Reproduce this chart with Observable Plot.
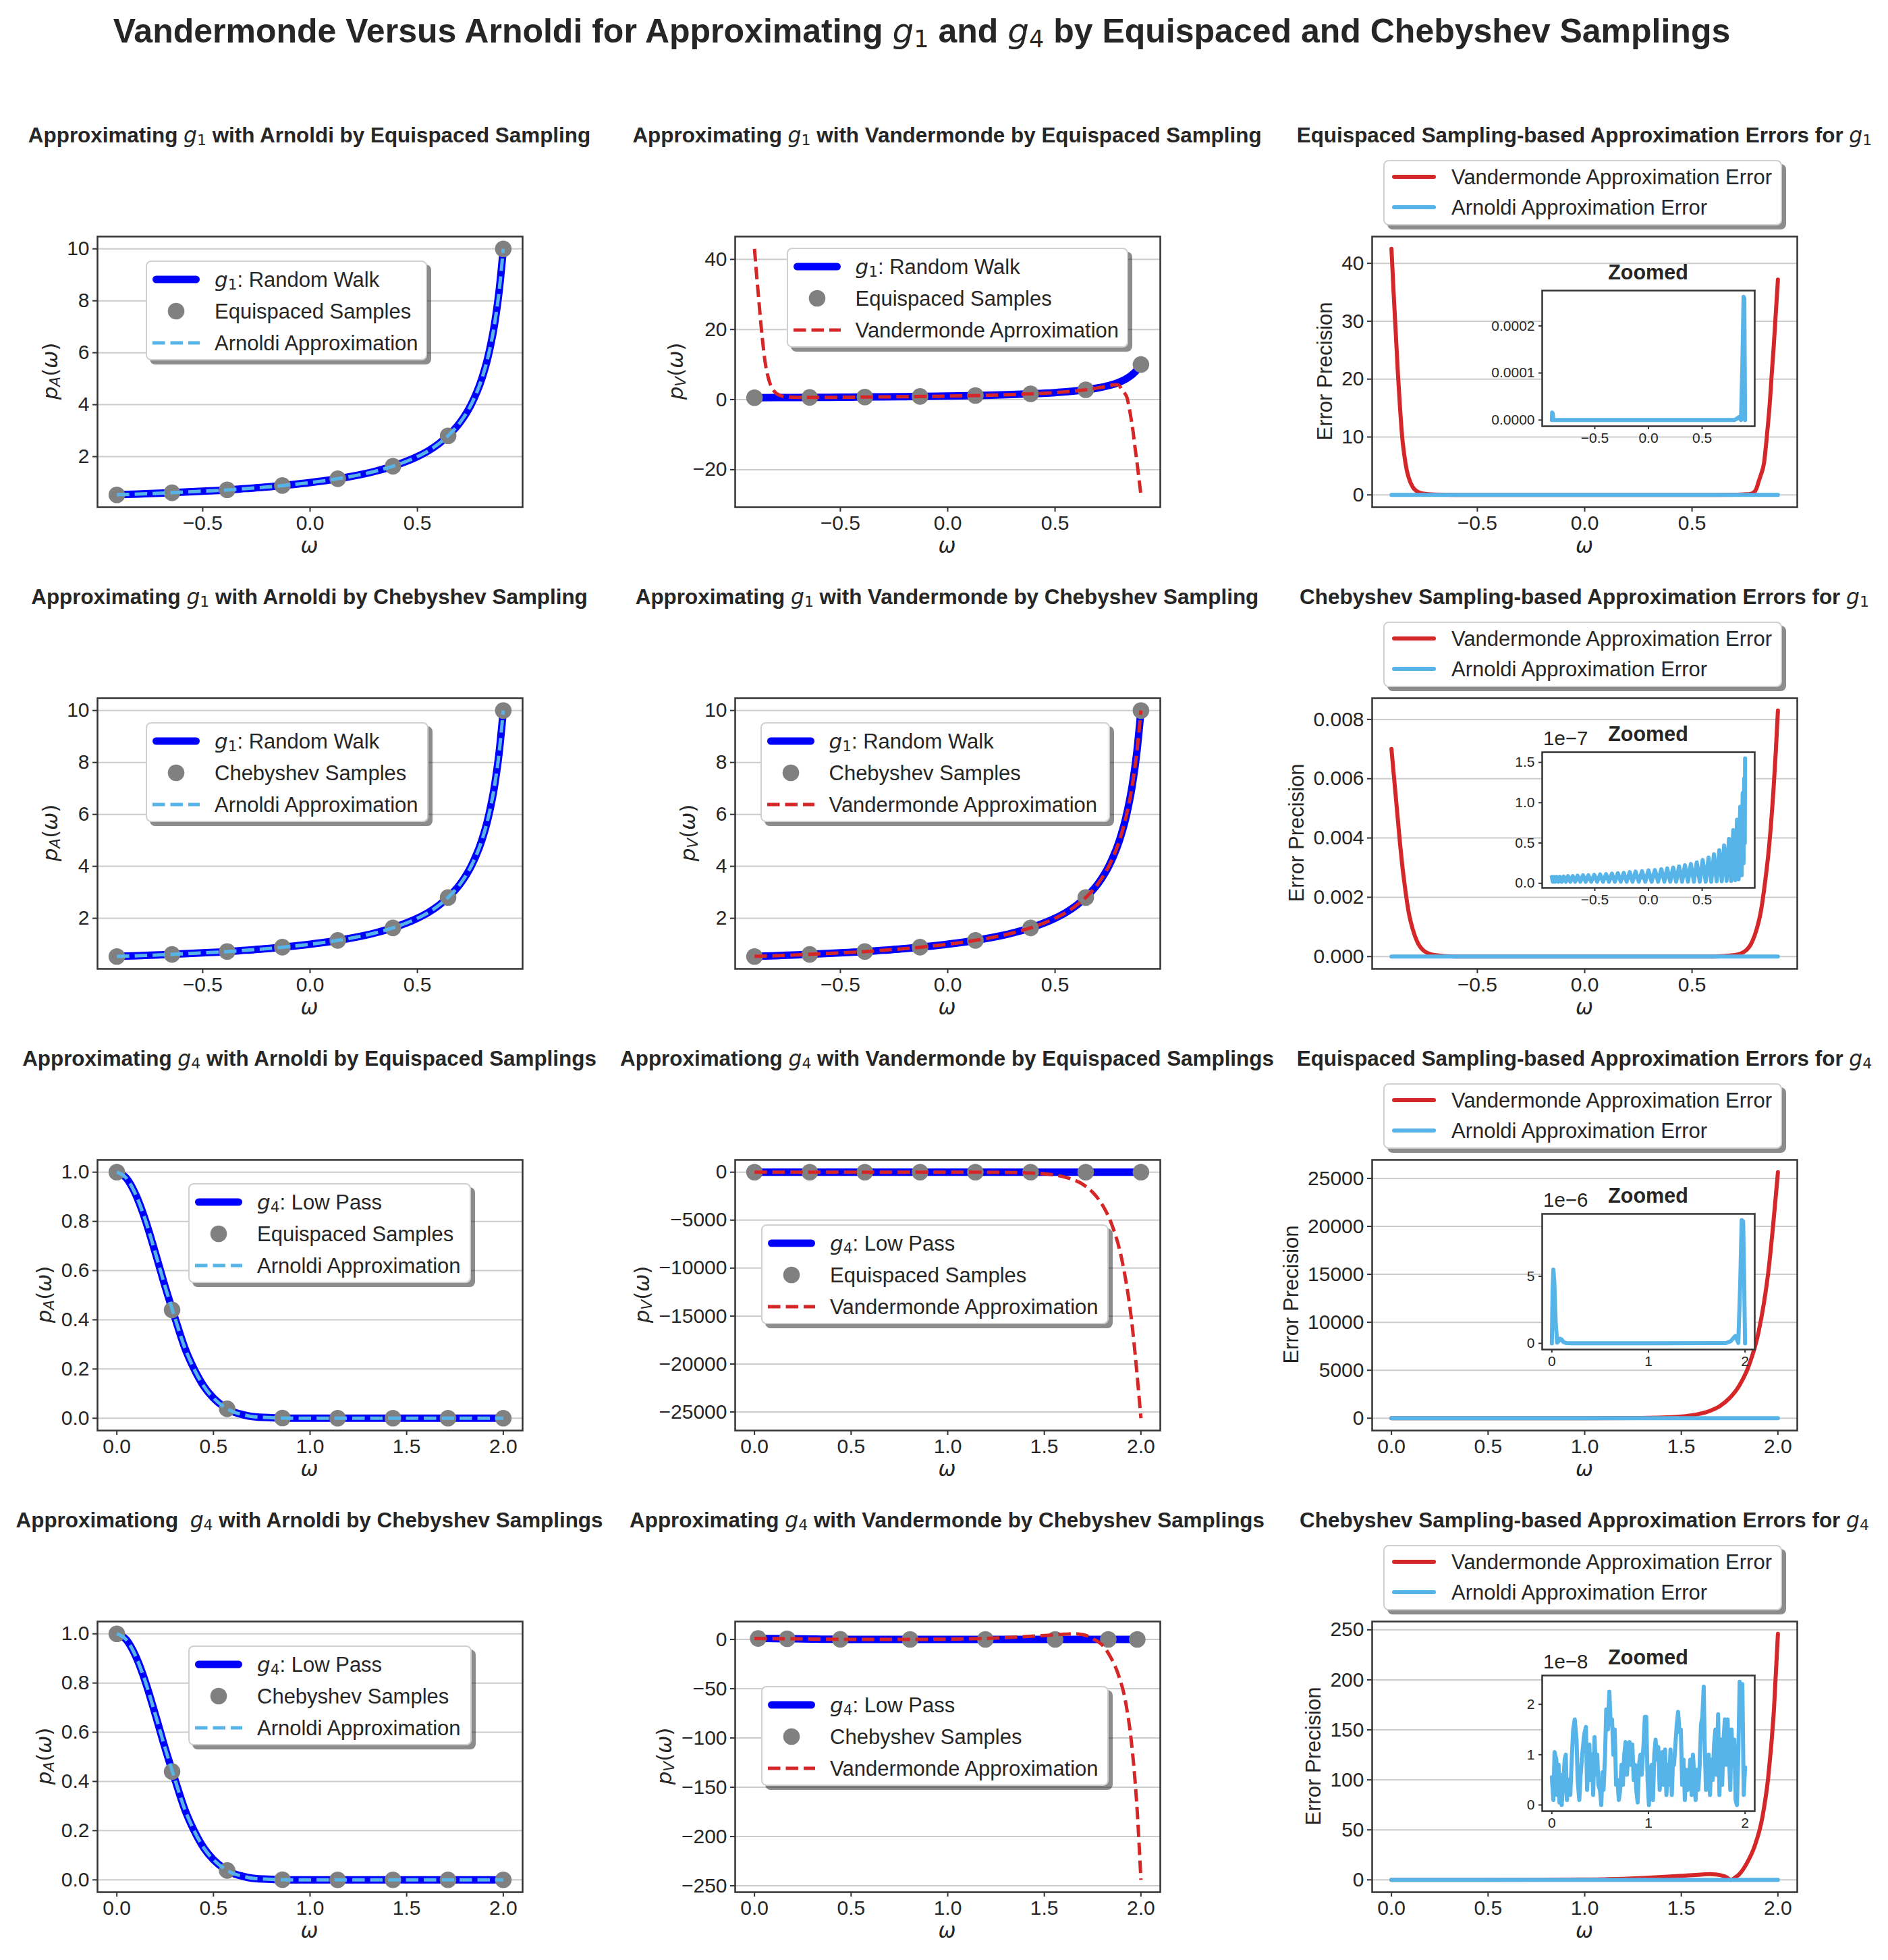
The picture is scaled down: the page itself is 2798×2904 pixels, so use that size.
<!DOCTYPE html>
<html>
<head>
<meta charset="utf-8">
<script src="https://cdn.jsdelivr.net/npm/d3@7"></script>
<script src="https://cdn.jsdelivr.net/npm/@observablehq/plot@0.6"></script>
<style>
html,body{margin:0;padding:0;background:#fff;}
#fig{position:relative;width:2798px;height:2904px;overflow:hidden;background:#fff;font-family:"Liberation Sans",Arial,sans-serif;color:#262626;}
#fig svg{position:absolute;overflow:visible;}
.c{position:absolute;transform:translate(-50%,-50%);white-space:pre;line-height:1;}
.b{font-weight:bold;}
.mi{font-family:"DejaVu Sans";font-style:italic;font-weight:normal;}
.mr{font-family:"DejaVu Sans";font-style:normal;font-weight:normal;}
.ms{font-family:"DejaVu Sans";font-weight:normal;font-size:0.7em;position:relative;top:0.2em;}
.legend{position:absolute;background:#fff;border:2px solid #d0d0d0;border-radius:8px;box-shadow:6px 6px 0 0 rgba(0,0,0,0.45);box-sizing:border-box;font-size:31px;}
.legend .txt{position:absolute;transform:translateY(-50%);white-space:pre;line-height:1;}
</style>
</head>
<body>
<div id="fig"></div>
<script>
// ---------------- DATA ----------------
// g1 : random walk filter, smooth curve
const g1X = [-0.9,-0.8,-0.7,-0.6,-0.5,-0.4,-0.3,-0.2,-0.1,0,0.1,0.2,0.3,0.4,0.5,0.55,0.6,0.65,0.7,0.75,0.8,0.83,0.86,0.88,0.9];
const g1Y = [0.53,0.56,0.59,0.63,0.67,0.71,0.77,0.83,0.91,1.0,1.11,1.25,1.43,1.67,2.0,2.22,2.5,2.86,3.33,4.0,5.0,5.88,7.14,8.33,10.0];
// Arnoldi approximation (and Vandermonde on Chebyshev samples) coincide with g1 at picture resolution
const arnoldiG1Y = g1Y;
const vandChebG1Y = g1Y;
// g1 samples (same abscissae shown in both sampling rows)
const sampG1X = [-0.9,-0.643,-0.386,-0.129,0.129,0.386,0.643,0.9];
const sampG1Y = [0.526,0.609,0.722,0.886,1.148,1.628,2.8,10.0];
// Vandermonde approximation of g1 with equispaced samples
const vandEqG1X = [-0.9,-0.89,-0.88,-0.87,-0.86,-0.85,-0.84,-0.83,-0.82,-0.8,-0.78,-0.75,-0.7,-0.6,-0.4,-0.2,0,0.2,0.4,0.5,0.6,0.65,0.7,0.74,0.77,0.79,0.8,0.81,0.82,0.836,0.845,0.854,0.863,0.872,0.881,0.89,0.9];
const vandEqG1Y = [43.0,35.5,28.5,21.5,15.5,10.5,7.3,5.0,3.5,1.85,1.16,0.77,0.64,0.63,0.71,0.83,1.0,1.25,1.67,2.0,2.5,2.86,3.35,3.75,4.2,4.25,3.9,2.96,2.16,0.4,-2.3,-5.4,-9.0,-13.5,-17.6,-22.2,-27.2];
// errors, g1, equispaced
const vandErrEqG1X = [-0.9,-0.89,-0.88,-0.87,-0.86,-0.85,-0.84,-0.83,-0.82,-0.8,-0.78,-0.75,-0.7,-0.6,0,0.6,0.7,0.74,0.77,0.79,0.8,0.81,0.82,0.836,0.845,0.854,0.863,0.872,0.881,0.89,0.9];
const vandErrEqG1Y = [42.5,35,28,21,15,10,6.8,4.5,3.0,1.3,0.6,0.2,0.05,0,0,0,0.02,0.1,0.15,0.5,1.1,2.3,3.4,5.7,8.8,12.3,16.3,21.3,26,31.3,37.2];
const arnErrEqG1X = [-0.9,-0.897,-0.893,-0.887,-0.88,-0.85,0.0,0.8,0.825,0.84,0.85,0.862,0.875,0.886,0.893,0.9];
const arnErrEqG1Y = [0,1.6e-5,1.5e-5,0.3e-5,0,0,0,0,0.3e-5,0.6e-5,0.4e-5,0,1.2e-4,2.62e-4,2.58e-4,0];
// errors, g1, Chebyshev
const vandErrChebG1X = [-0.9,-0.89,-0.88,-0.87,-0.86,-0.85,-0.84,-0.82,-0.8,-0.78,-0.75,-0.7,-0.6,0,0.6,0.7,0.75,0.78,0.8,0.82,0.84,0.86,0.88,0.89,0.9];
const vandErrChebG1Y = [0.0070,0.0062,0.0054,0.0046,0.0038,0.0031,0.0025,0.0015,0.0009,0.0005,0.0002,0.00005,0,0,0,0.00005,0.0002,0.0005,0.0009,0.0015,0.0025,0.0038,0.0057,0.0069,0.0083];
const arnErrChebG1X = [-0.90,-0.89,-0.88,-0.868,-0.855,-0.84,-0.825,-0.808,-0.79,-0.77,-0.75,-0.728,-0.705,-0.683,-0.66,-0.635,-0.61,-0.585,-0.56,-0.533,-0.505,-0.478,-0.45,-0.423,-0.395,-0.368,-0.34,-0.313,-0.285,-0.258,-0.23,-0.203,-0.175,-0.148,-0.12,-0.09,-0.06,-0.03,0.0,0.03,0.06,0.09,0.12,0.148,0.175,0.203,0.23,0.258,0.285,0.313,0.34,0.368,0.395,0.423,0.45,0.478,0.505,0.533,0.56,0.585,0.61,0.635,0.66,0.683,0.705,0.728,0.75,0.77,0.79,0.808,0.825,0.84,0.855,0.868,0.878,0.886,0.892,0.897,0.9];
const arnErrChebG1Y = [0.08e-7,0.02e-7,0.08e-7,0.02e-7,0.08e-7,0.02e-7,0.08e-7,0.02e-7,0.085e-7,0.02e-7,0.09e-7,0.02e-7,0.09e-7,0.02e-7,0.095e-7,0.02e-7,0.10e-7,0.02e-7,0.10e-7,0.02e-7,0.105e-7,0.02e-7,0.11e-7,0.02e-7,0.115e-7,0.02e-7,0.12e-7,0.02e-7,0.125e-7,0.02e-7,0.13e-7,0.02e-7,0.14e-7,0.02e-7,0.145e-7,0.02e-7,0.15e-7,0.02e-7,0.16e-7,0.02e-7,0.165e-7,0.02e-7,0.175e-7,0.02e-7,0.185e-7,0.02e-7,0.195e-7,0.02e-7,0.21e-7,0.02e-7,0.225e-7,0.02e-7,0.24e-7,0.02e-7,0.26e-7,0.02e-7,0.29e-7,0.02e-7,0.32e-7,0.02e-7,0.36e-7,0.025e-7,0.41e-7,0.025e-7,0.47e-7,0.03e-7,0.55e-7,0.03e-7,0.66e-7,0.04e-7,0.79e-7,0.05e-7,0.95e-7,0.10e-7,1.12e-7,0.25e-7,1.3e-7,0.5e-7,1.55e-7];

// g4 : low pass filter
const g4X = [0,0.05,0.1,0.15,0.2,0.25,0.3,0.35,0.4,0.45,0.5,0.55,0.6,0.65,0.7,0.8,0.9,1.0,1.2,1.4,1.6,1.8,2.0];
const g4Y = [1.0,0.975,0.905,0.80,0.67,0.535,0.41,0.29,0.20,0.13,0.082,0.049,0.027,0.015,0.007,0.002,0.0003,0,0,0,0,0,0];
const arnoldiG4Y = g4Y;
const eqG4X = [0,0.286,0.571,0.857,1.143,1.429,1.714,2.0];
const eqG4Y = [1.0,0.44,0.038,0.0006,0,0,0,0];
const chebG4X = [0.019,0.169,0.444,0.805,1.195,1.556,1.831,1.981];
const chebG4Y = [1.0,0.75,0.14,0.0015,0,0,0,0];
// Vandermonde approximations of g4
const vandEqG4X = [0,0.2,0.4,0.6,0.8,1.0,1.3,1.4,1.45,1.5,1.55,1.6,1.65,1.7,1.75,1.8,1.85,1.9,1.95,2.0];
const vandEqG4Y = [1.0,0.67,0.2,0.03,0,0,-25,-65,-110,-180,-290,-480,-780,-1270,-2100,-3400,-5500,-9000,-15200,-25650];
const vandChebG4X = [0,0.1,0.2,0.3,0.4,0.5,0.6,0.8,1.0,1.1,1.2,1.3,1.4,1.5,1.6,1.65,1.7,1.73,1.757,1.78,1.8,1.84,1.88,1.92,1.95,1.98,2.0];
const vandChebG4Y = [1.0,0.9,0.67,0.41,0.2,0.08,0.03,0,0.3,0.6,1.1,1.9,2.9,4.0,5.3,5.7,4.8,3.0,0,-2.5,-5.7,-17,-34,-63,-103,-172,-244];
// errors, g4, equispaced
const vandErrEqG4X = [0,1.0,1.3,1.4,1.45,1.5,1.55,1.6,1.65,1.7,1.75,1.8,1.85,1.9,1.95,2.0];
const vandErrEqG4Y = [0,0,25,65,110,180,290,480,780,1270,2100,3400,5500,9000,15200,25650];
const arnErrEqG4X = [0,0.008,0.016,0.026,0.04,0.055,0.07,0.085,0.1,0.12,0.15,0.2,1.0,1.8,1.85,1.88,1.9,1.915,1.93,1.95,1.965,1.98,1.99,2.0];
const arnErrEqG4Y = [0,4.0e-6,5.5e-6,4.5e-6,1.5e-6,0.05e-6,0.15e-6,0.35e-6,0.3e-6,0.1e-6,0.02e-6,0,0,0.02e-6,0.15e-6,0.4e-6,0.55e-6,0.3e-6,0.03e-6,4.5e-6,9.2e-6,9.1e-6,5.0e-6,0];
// errors, g4, Chebyshev
const vandErrChebG4X = [0,1.0,1.1,1.2,1.3,1.4,1.5,1.6,1.65,1.7,1.73,1.757,1.78,1.8,1.84,1.88,1.92,1.95,1.98,2.0];
const vandErrChebG4Y = [0,0.3,0.6,1.1,1.9,2.9,4.0,5.3,5.7,4.8,3.0,0,2.5,5.7,17,34,63,103,172,246];
const arnErrChebG4X = [0,0.016,0.028,0.047,0.056,0.07,0.079,0.093,0.102,0.121,0.133,0.144,0.156,0.172,0.191,0.207,0.221,0.237,0.256,0.267,0.284,0.298,0.314,0.335,0.353,0.365,0.377,0.388,0.4,0.414,0.428,0.442,0.456,0.47,0.481,0.498,0.512,0.523,0.535,0.551,0.563,0.581,0.595,0.609,0.623,0.637,0.651,0.665,0.679,0.693,0.707,0.721,0.735,0.749,0.763,0.777,0.791,0.805,0.819,0.833,0.847,0.86,0.874,0.888,0.902,0.916,0.93,0.949,0.963,0.977,0.991,1.005,1.019,1.033,1.047,1.06,1.074,1.088,1.102,1.116,1.13,1.144,1.158,1.172,1.186,1.2,1.214,1.228,1.242,1.256,1.265,1.279,1.293,1.307,1.321,1.335,1.349,1.363,1.377,1.391,1.405,1.419,1.433,1.447,1.46,1.474,1.488,1.502,1.516,1.53,1.544,1.558,1.572,1.581,1.595,1.609,1.623,1.637,1.651,1.665,1.679,1.693,1.707,1.721,1.735,1.749,1.763,1.777,1.791,1.805,1.819,1.833,1.847,1.86,1.874,1.888,1.902,1.916,1.93,1.944,1.958,1.972,1.986,2.0];
const arnErrChebG4Y = [0.55e-8,0.1e-8,1.05e-8,0.9e-8,0.2e-8,0.8e-8,0.05e-8,0.6e-8,0.0,0.5e-8,0.9e-8,1.0e-8,0.1e-8,0.5e-8,0.2e-8,0.95e-8,1.5e-8,1.7e-8,1.3e-8,0.5e-8,0.1e-8,0.6e-8,1.0e-8,1.4e-8,1.55e-8,0.3e-8,0.9e-8,1.2e-8,0.5e-8,1.0e-8,0.2e-8,1.35e-8,0.6e-8,1.0e-8,0.4e-8,0.3e-8,0.0,0.65e-8,0.3e-8,1.0e-8,1.9e-8,1.5e-8,2.25e-8,1.6e-8,1.7e-8,1.0e-8,1.5e-8,0.4e-8,0.5e-8,0.1e-8,0.3e-8,0.8e-8,0.4e-8,1.0e-8,1.25e-8,0.6e-8,1.0e-8,1.25e-8,0.8e-8,1.2e-8,0.5e-8,0.8e-8,0.3e-8,0.05e-8,0.8e-8,1.0e-8,0.6e-8,1.2e-8,1.75e-8,1.75e-8,0.5e-8,0.0,0.7e-8,0.8e-8,0.1e-8,1.0e-8,1.3e-8,0.9e-8,1.15e-8,0.3e-8,0.7e-8,1.05e-8,0.4e-8,1.1e-8,0.2e-8,0.8e-8,0.4e-8,1.1e-8,0.2e-8,1.0e-8,0.8e-8,1.2e-8,1.6e-8,1.85e-8,1.45e-8,1.5e-8,0.4e-8,0.9e-8,0.1e-8,0.7e-8,0.3e-8,0.5e-8,0.9e-8,0.2e-8,1.0e-8,0.6e-8,0.1e-8,0.7e-8,0.3e-8,0.8e-8,1.6e-8,1.75e-8,2.35e-8,1.3e-8,0.3e-8,0.6e-8,1.0e-8,0.2e-8,0.9e-8,0.5e-8,1.2e-8,1.5e-8,0.6e-8,1.8e-8,0.2e-8,1.3e-8,0.4e-8,1.3e-8,1.7e-8,0.8e-8,1.7e-8,1.0e-8,0.3e-8,1.5e-8,0.8e-8,1.3e-8,0.1e-8,0.0,1.0e-8,2.45e-8,1.6e-8,2.4e-8,0.2e-8,0.75e-8];

// tick values
const xTicksG1 = [-0.5,0,0.5];
const xTicksG4 = [0,0.5,1,1.5,2];
const xTicksInsetG4 = [0,1,2];

// ---------------- LAYOUT / STYLE ----------------
const COL_LEFT = [143.5,1088.5,2033], ROW_TOP = [349.5,1033.5,1717.5,2401.5], PW = 630, PH = 401;
const BLUE = "#0000ff", SKY = "#56b4e9", RED = "#d62728", GRAY = "#808080", INK = "#262626", FRAME = "#333333", GRID = "#cccccc";
const DASH = "18.5,8";
const FONT = '"Liberation Sans", Arial, sans-serif';
const TICK = 30;
const fig = document.getElementById("fig");

const G = n => `<span class="mi">g</span><span class="ms">${n}</span>`;
const P = s => `<span class="mi">p</span><span class="ms mi">${s}</span><span class="mr">(</span><span class="mi">ω</span><span class="mr">)</span>`;
const OMEGA = `<span class="mi">ω</span>`;

function pts(xs, ys){ const n = Math.min(xs.length, ys.length), o = []; for (let i = 0; i < n; i++) o.push({x: xs[i], y: ys[i]}); return o; }
function padded(v){ const [a,b] = d3.extent(v); const r = b - a; return [a - 0.05*r, b + 0.05*r]; }
function add(html, cls, x, y, size, extra){ const d = document.createElement("div"); d.className = cls; d.style.left = x+"px"; d.style.top = y+"px"; d.style.fontSize = size+"px"; if (extra) d.style.cssText += extra; d.innerHTML = html; fig.appendChild(d); return d; }

function markFor(s){
  if (s.kind === "dot") return Plot.dot(s.data, {x:"x", y:"y", r:12.3, fill:GRAY, stroke:"none"});
  return Plot.line(s.data, {x:"x", y:"y", stroke:s.color, strokeWidth:s.width, curve:s.curve || "monotone-x",
    strokeDasharray:s.dash, strokeLinecap:s.dash ? "butt" : "round", strokeLinejoin:"round"});
}

function legendBox(x, y, w, h, rows, o){
  const box = document.createElement("div"); box.className = "legend";
  Object.assign(box.style, {left:x+"px", top:y+"px", width:w+"px", height:h+"px"});
  rows.forEach((r, i) => {
    const cy = o.centers[i];
    const ns = "http://www.w3.org/2000/svg";
    const sv = document.createElementNS(ns, "svg");
    sv.setAttribute("width", o.hLen); sv.setAttribute("height", 30);
    sv.style.left = o.hX + "px"; sv.style.top = (cy - 15) + "px"; sv.style.position = "absolute";
    if (r.kind === "dot") {
      const c = document.createElementNS(ns, "circle");
      c.setAttribute("cx", o.hLen/2); c.setAttribute("cy", 15); c.setAttribute("r", 12.3); c.setAttribute("fill", GRAY);
      sv.appendChild(c);
    } else {
      const l = document.createElementNS(ns, "line");
      l.setAttribute("x1", r.dash ? 0 : r.width/2); l.setAttribute("x2", r.dash ? o.hLen : o.hLen - r.width/2);
      l.setAttribute("y1", 15); l.setAttribute("y2", 15);
      l.setAttribute("stroke", r.color); l.setAttribute("stroke-width", r.width);
      l.setAttribute("stroke-linecap", r.dash ? "butt" : "round");
      if (r.dash) l.setAttribute("stroke-dasharray", r.dash);
      sv.appendChild(l);
    }
    box.appendChild(sv);
    const t = document.createElement("div"); t.className = "txt";
    t.style.left = o.tX + "px"; t.style.top = cy + "px"; t.innerHTML = r.html;
    box.appendChild(t);
  });
  fig.appendChild(box);
}

function axisStyle(size){ return {fontFamily:FONT, fontSize:size+"px", color:INK, background:"transparent", overflow:"visible"}; }

function mainPanel(p){
  const L = COL_LEFT[p.col], T = ROW_TOP[p.row];
  const ml = 150, mr = 20, mt = 20, mb = 70;
  const allX = p.series.flatMap(s => s.data.map(d => d.x));
  const allY = p.series.flatMap(s => s.data.map(d => d.y));
  const svg = Plot.plot({
    width: PW+ml+mr, height: PH+mt+mb, marginLeft: ml, marginRight: mr, marginTop: mt, marginBottom: mb,
    x: {domain: padded(allX), label: null}, y: {domain: padded(allY), label: null},
    style: axisStyle(TICK),
    marks: [
      Plot.gridY(p.yTicks, {stroke:GRID, strokeOpacity:1, strokeWidth:2}),
      ...p.series.map(markFor),
      Plot.frame({stroke:FRAME, strokeWidth:2.5}),
      Plot.axisX(p.xTicks, {tickFormat:p.xFmt, tickSize:7, tickPadding:5, fontSize:TICK, stroke:FRAME, strokeWidth:2, label:null}),
      Plot.axisY(p.yTicks, {tickFormat:p.yFmt, tickSize:7, tickPadding:5, fontSize:TICK, stroke:FRAME, strokeWidth:2, label:null})
    ]
  });
  svg.style.left = (L-ml)+"px"; svg.style.top = (T-mt)+"px";
  fig.appendChild(svg);
  // y label placed left of the rendered tick labels
  let tl = L - 50;
  const g = svg.querySelector('[aria-label="y-axis tick label"]');
  if (g) { const r = g.getBoundingClientRect(), f = fig.getBoundingClientRect(); tl = r.left - f.left; }
  add(p.ylab, "c", tl - 25, T + PH/2, 31, "transform:translate(-50%,-50%) rotate(-90deg);");
  add(OMEGA, "c", L + PW/2, T + PH + 57, 31);
  add(p.title, "c b", L + PW/2, T - 148.5, 31.4);
  const lg = p.legend;
  if (p.col < 2) legendBox(L + lg.dx, T + lg.dy, lg.w, 148, lg.rows, {centers:[26,73,120], hX:8, hLen:70, tX:100});
  else legendBox(L + 17, T - 113, 591, 97, lg.rows, {centers:[23,68], hX:11, hLen:65, tX:99});
}

function insetPanel(p){
  const L = COL_LEFT[2] + 252, T = ROW_TOP[p.row] + 80, w = 315, h = 201;
  const ml = 100, mr = 10, mt = 10, mb = 40;
  const svg = Plot.plot({
    width: w+ml+mr, height: h+mt+mb, marginLeft: ml, marginRight: mr, marginTop: mt, marginBottom: mb,
    x: {domain: padded(p.xs), label: null}, y: {domain: padded(p.ys), label: null},
    style: axisStyle(21),
    marks: [
      Plot.frame({fill:"white", stroke:"none"}),
      Plot.line(pts(p.xs, p.ys), {x:"x", y:"y", stroke:SKY, strokeWidth:6, curve:"linear", strokeLinejoin:"round", strokeLinecap:"round"}),
      Plot.frame({stroke:FRAME, strokeWidth:2.5}),
      Plot.axisX(p.xTicks, {tickFormat:p.xFmt, tickSize:5, tickPadding:5, fontSize:21, stroke:FRAME, strokeWidth:2, label:null}),
      Plot.axisY(p.yTicks, {tickFormat:p.yFmt, tickSize:5, tickPadding:6, fontSize:21, stroke:FRAME, strokeWidth:2, label:null})
    ]
  });
  svg.style.left = (L-ml)+"px"; svg.style.top = (T-mt)+"px";
  fig.appendChild(svg);
  add("Zoomed", "c b", L + w/2, T - 27, 30.5);
  if (p.offset) add(p.offset, "c", L + 2, T - 20, 29.5, "transform:translate(0,-50%);");
}

// ---------------- series & legend rows ----------------
const f1 = d3.format(".1f"), fd = d3.format("d"), f3 = d3.format(".3f");
const sG1 = {kind:"line", data:pts(g1X, g1Y), color:BLUE, width:11};
const sG4 = {kind:"line", data:pts(g4X, g4Y), color:BLUE, width:11};
const sSampG1 = {kind:"dot", data:pts(sampG1X, sampG1Y)};
const sEqG4 = {kind:"dot", data:pts(eqG4X, eqG4Y)};
const sChebG4 = {kind:"dot", data:pts(chebG4X, chebG4Y)};
const sArnG1 = {kind:"line", data:pts(g1X, arnoldiG1Y), color:SKY, width:5, dash:DASH};
const sArnG4 = {kind:"line", data:pts(g4X, arnoldiG4Y), color:SKY, width:5, dash:DASH};
const sVandEqG1 = {kind:"line", data:pts(vandEqG1X, vandEqG1Y), color:RED, width:5, dash:DASH};
const sVandChebG1 = {kind:"line", data:pts(g1X, vandChebG1Y), color:RED, width:5, dash:DASH};
const sVandEqG4 = {kind:"line", data:pts(vandEqG4X, vandEqG4Y), color:RED, width:5, dash:DASH};
const sVandChebG4 = {kind:"line", data:pts(vandChebG4X, vandChebG4Y), color:RED, width:5, dash:DASH};
const errV = (xs, ys) => ({kind:"line", data:pts(xs, ys), color:RED, width:6});
const errA = (xs, ys) => ({kind:"line", data:pts(xs, ys), color:SKY, width:6, curve:"linear"});

const rG1 = {kind:"line", color:BLUE, width:11, html:`${G(1)}: Random Walk`};
const rG4 = {kind:"line", color:BLUE, width:11, html:`${G(4)}: Low Pass`};
const rEq = {kind:"dot", html:"Equispaced Samples"};
const rCh = {kind:"dot", html:"Chebyshev Samples"};
const rArn = {kind:"line", color:SKY, width:5, dash:DASH, html:"Arnoldi Approximation"};
const rVand = {kind:"line", color:RED, width:5, dash:DASH, html:"Vandermonde Approximation"};
const rVandTypo = {kind:"line", color:RED, width:5, dash:DASH, html:"Vandermonde Aprroximation"};
const errRows = [{kind:"line", color:RED, width:6, html:"Vandermonde Approximation Error"}, {kind:"line", color:SKY, width:6, html:"Arnoldi Approximation Error"}];

const panels = [
  {row:0, col:0, title:`Approximating ${G(1)} with Arnoldi by Equispaced Sampling`, ylab:P("A"), xTicks:xTicksG1, xFmt:f1, yTicks:[2,4,6,8,10], yFmt:fd,
   series:[sG1, sSampG1, sArnG1], legend:{dx:72.5, dy:36.5, w:417, rows:[rG1, rEq, rArn]}},
  {row:0, col:1, title:`Approximating ${G(1)} with Vandermonde by Equispaced Sampling`, ylab:P("V"), xTicks:xTicksG1, xFmt:f1, yTicks:[-20,0,20,40], yFmt:fd,
   series:[sG1, sSampG1, sVandEqG1], legend:{dx:77, dy:17.5, w:506, rows:[rG1, rEq, rVandTypo]}},
  {row:0, col:2, title:`Equispaced Sampling-based Approximation Errors for ${G(1)}`, ylab:"Error Precision", xTicks:xTicksG1, xFmt:f1, yTicks:[0,10,20,30,40], yFmt:fd,
   series:[errV(vandErrEqG1X, vandErrEqG1Y), errA(arnErrEqG1X, arnErrEqG1Y)], legend:{rows:errRows}},
  {row:1, col:0, title:`Approximating ${G(1)} with Arnoldi by Chebyshev Sampling`, ylab:P("A"), xTicks:xTicksG1, xFmt:f1, yTicks:[2,4,6,8,10], yFmt:fd,
   series:[sG1, sSampG1, sArnG1], legend:{dx:72.5, dy:36, w:419, rows:[rG1, rCh, rArn]}},
  {row:1, col:1, title:`Approximating ${G(1)} with Vandermonde by Chebyshev Sampling`, ylab:P("V"), xTicks:xTicksG1, xFmt:f1, yTicks:[2,4,6,8,10], yFmt:fd,
   series:[sG1, sSampG1, sVandChebG1], legend:{dx:38, dy:36, w:518, rows:[rG1, rCh, rVand]}},
  {row:1, col:2, title:`Chebyshev Sampling-based Approximation Errors for ${G(1)}`, ylab:"Error Precision", xTicks:xTicksG1, xFmt:f1, yTicks:[0,0.002,0.004,0.006,0.008], yFmt:f3,
   series:[errV(vandErrChebG1X, vandErrChebG1Y), errA(arnErrChebG1X, arnErrChebG1Y)], legend:{rows:errRows}},
  {row:2, col:0, title:`Approximating ${G(4)} with Arnoldi by Equispaced Samplings`, ylab:P("A"), xTicks:xTicksG4, xFmt:f1, yTicks:[0,0.2,0.4,0.6,0.8,1.0], yFmt:f1,
   series:[sG4, sEqG4, sArnG4], legend:{dx:135.5, dy:35.5, w:419, rows:[rG4, rEq, rArn]}},
  {row:2, col:1, title:`Approximationg ${G(4)} with Vandermonde by Equispaced Samplings`, ylab:P("V"), xTicks:xTicksG4, xFmt:f1, yTicks:[-25000,-20000,-15000,-10000,-5000,0], yFmt:fd,
   series:[sG4, sEqG4, sVandEqG4], legend:{dx:39.6, dy:96.5, w:515, rows:[rG4, rEq, rVand]}},
  {row:2, col:2, title:`Equispaced Sampling-based Approximation Errors for ${G(4)}`, ylab:"Error Precision", xTicks:xTicksG4, xFmt:f1, yTicks:[0,5000,10000,15000,20000,25000], yFmt:fd,
   series:[errV(vandErrEqG4X, vandErrEqG4Y), errA(arnErrEqG4X, arnErrEqG4Y)], legend:{rows:errRows}},
  {row:3, col:0, title:`Approximationg  ${G(4)} with Arnoldi by Chebyshev Samplings`, ylab:P("A"), xTicks:xTicksG4, xFmt:f1, yTicks:[0,0.2,0.4,0.6,0.8,1.0], yFmt:f1,
   series:[sG4, sEqG4, sArnG4], legend:{dx:135.5, dy:36.4, w:420, rows:[rG4, rCh, rArn]}},
  {row:3, col:1, title:`Approximating ${G(4)} with Vandermonde by Chebyshev Samplings`, ylab:P("V"), xTicks:xTicksG4, xFmt:f1, yTicks:[-250,-200,-150,-100,-50,0], yFmt:fd,
   series:[sG4, sChebG4, sVandChebG4], legend:{dx:39.6, dy:96.4, w:515, rows:[rG4, rCh, rVand]}},
  {row:3, col:2, title:`Chebyshev Sampling-based Approximation Errors for ${G(4)}`, ylab:"Error Precision", xTicks:xTicksG4, xFmt:f1, yTicks:[0,50,100,150,200,250], yFmt:fd,
   series:[errV(vandErrChebG4X, vandErrChebG4Y), errA(arnErrChebG4X, arnErrChebG4Y)], legend:{rows:errRows}}
];

const insets = [
  {row:0, xs:arnErrEqG1X, ys:arnErrEqG1Y, xTicks:xTicksG1, xFmt:f1, yTicks:[0,1e-4,2e-4], yFmt:d => d.toFixed(4)},
  {row:1, xs:arnErrChebG1X, ys:arnErrChebG1Y, xTicks:xTicksG1, xFmt:f1, yTicks:[0,0.5e-7,1e-7,1.5e-7], yFmt:d => (d/1e-7).toFixed(1), offset:"1e−7"},
  {row:2, xs:arnErrEqG4X, ys:arnErrEqG4Y, xTicks:xTicksInsetG4, xFmt:fd, yTicks:[0,5e-6], yFmt:d => (d/1e-6).toFixed(0), offset:"1e−6"},
  {row:3, xs:arnErrChebG4X, ys:arnErrChebG4Y, xTicks:xTicksInsetG4, xFmt:fd, yTicks:[0,1e-8,2e-8], yFmt:d => (d/1e-8).toFixed(0), offset:"1e−8"}
];

add(`Vandermonde Versus Arnoldi for Approximating ${G(1)} and ${G(4)} by Equispaced and Chebyshev Samplings`, "c b", 1366, 45.5, 50);
panels.forEach(mainPanel);
insets.forEach(insetPanel);
</script>
</body>
</html>
